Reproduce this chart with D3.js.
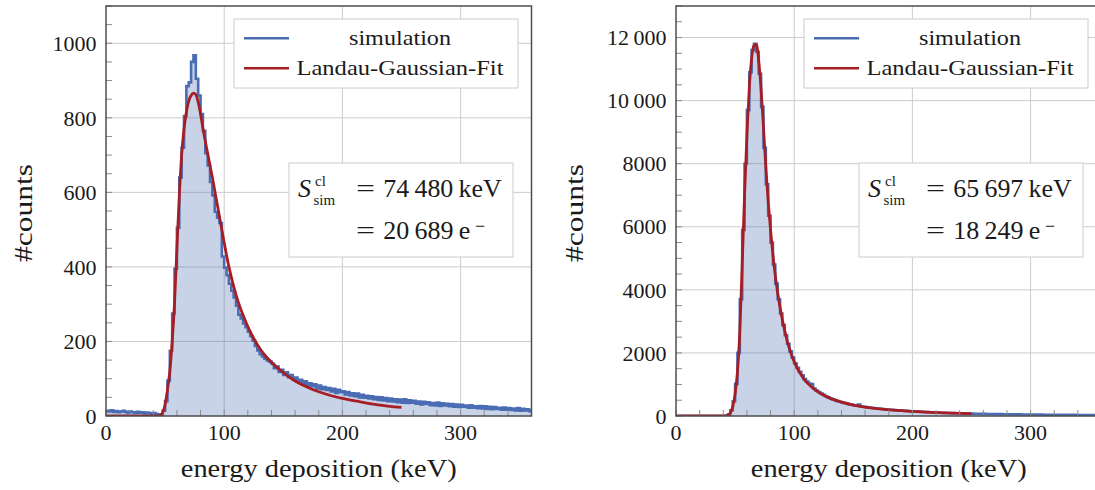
<!DOCTYPE html>
<html><head><meta charset="utf-8">
<script src="https://cdn.jsdelivr.net/npm/d3@7"></script>
<style>
body{margin:0;background:#fff}
svg{display:block}
svg text{font-family:"Liberation Serif","DejaVu Serif","Noto Serif",serif;fill:#1a1a1a}
</style>
</head><body><script>
// ---------------- data ----------------
const binEdges = d3.range(0, 360, 2); // left edges of the 2 keV histogram bins
const simLeft = [
 14,12,15,11,13,10,12,14,11,9,
 12,10,8,11,9,10,7,9,8,6,
 8,5,2,4,14,40,95,175,275,395,
 505,640,720,805,885,895,950,968,905,860,
 810,765,705,672,628,592,548,532,518,428,
 398,378,355,336,318,296,272,262,248,238,
 226,214,202,188,176,166,160,154,149,146,
 140,128,133,118,124,110,117,104,110,98,
 103,92,97,86,93,82,88,80,85,74,
 82,72,78,70,75,66,73,62,70,64,
 66,58,64,55,61,53,60,50,57,49,
 54,47,53,45,51,43,50,42,48,40,
 47,39,45,37,44,36,45,35,42,36,
 41,33,39,31,38,32,37,29,35,28,
 36,27,34,28,33,26,32,25,31,24,
 30,25,28,22,29,22,26,21,27,20,
 26,19,25,18,24,19,22,17,23,17,
 21,16,20,15,21,14,19,15,18,13
];
const fitLeftE = [0,44,46,48,50,52,54,56,58,60,62,64,66,68,70,72,74,76,78,80,82,84,86,88,90,92,94,96,98,100,104,108,112,116,120,125,130,135,140,150,160,170,180,190,200,215,230,250];
const fitLeftC = [0,0,2,10,30,70,120,200,305,450,590,700,770,815,845,860,866,862,842,810,772,738,705,672,640,605,570,535,500,465,400,348,305,270,240,208,182,161,144,116,94,78,65,55,47,38,30,23];

const simRight = [
 0,0,0,0,0,0,0,0,0,0,
 0,0,0,0,0,0,0,0,0,0,
 0,10,50,180,470,1020,2000,3700,5900,8000,
 9700,10900,11600,11800,11550,10850,9800,8500,7350,6350,
 5500,4800,4200,3700,3250,2880,2560,2290,2050,1850,
 1670,1530,1400,1290,1170,1090,1030,1010,870,810,
 760,715,670,625,590,555,528,500,472,450,
 428,410,390,372,356,342,328,360,303,292,
 281,271,262,253,245,237,229,222,214,206,
 200,195,189,183,178,173,168,162,158,152,
 148,144,139,135,131,127,123,119,115,112,
 108,105,102,99,97,94,92,90,88,86,
 84,82,80,78,76,74,72,71,69,68,
 66,65,64,62,61,60,59,58,57,56,
 55,54,53,52,51,50,49,48,48,47,
 46,45,45,44,43,42,42,41,40,40,
 39,38,38,37,37,36,36,35,35,34,
 34,33,33,32,32,31,31,30,30,30
];
const fitRightE = [0,40,42,44,46,48,50,52,54,56,58,60,62,64,66,68,70,72,74,76,78,80,84,88,92,96,100,108,116,128,140,156,178,200,222,250];
const fitRightC = [0,0,3,25,100,290,700,1400,2700,4800,7000,8900,10400,11350,11750,11780,11250,10350,9150,7900,6800,5900,4450,3450,2700,2130,1720,1180,880,600,440,305,205,148,105,73];

const xTicks = [0,100,200,300];
const yTicksLeft = [0,200,400,600,800,1000];
const yTickLabelsLeft = ["0","200","400","600","800","1000"];
const yTicksRight = [0,2000,4000,6000,8000,10000,12000];
const yTickLabelsRight = ["0","2000","4000","6000","8000","10\u2009000","12\u2009000"];
const legendLabels = ["simulation","Landau-Gaussian-Fit"];
const annotLeft = ["74\u2009480\u2009keV","20\u2009689\u2009e"];
const annotRight = ["65\u2009697\u2009keV","18\u2009249\u2009e"];
const xLabel = "energy deposition (keV)";
const yLabel = "#counts";

// ---------------- styles ----------------
const BLUE = "#4a6cb3", RED = "#a71d24", GRID = "#cccccc", FRAME = "#4d4d4d", TICK = "#8a8a8a";
const FONT = '"Liberation Serif","DejaVu Serif","Noto Serif",serif';

const svg = d3.select("body").append("svg").attr("width",1095).attr("height",490)
  .attr("font-family", FONT);

function fit(sel, w){ return sel.attr("textLength", w).attr("lengthAdjust","spacingAndGlyphs"); }
function txt(g){ return g.append("text").attr("font-family", FONT); }

function drawPanel(cfg, idx){
  const x = d3.scaleLinear().domain([0,360]).range([cfg.left, cfg.left+425.5]);
  const y = d3.scaleLinear().domain([0,cfg.ymax]).range([416,6]);
  const g = svg.append("g");
  const cid = "clip"+idx;
  g.append("clipPath").attr("id",cid).append("rect")
    .attr("x",x(0)).attr("y",y(cfg.ymax)).attr("width",x(360)-x(0)).attr("height",y(0)-y(cfg.ymax));

  // grid
  g.selectAll(null).data(xTicks.filter(d=>d>0)).join("line")
    .attr("x1",d=>x(d)).attr("x2",d=>x(d)).attr("y1",y(0)).attr("y2",y(cfg.ymax))
    .attr("stroke",GRID).attr("stroke-width",1);
  g.selectAll(null).data(cfg.yTicks.filter(d=>d>0)).join("line")
    .attr("x1",x(0)).attr("x2",x(360)).attr("y1",d=>y(d)).attr("y2",d=>y(d))
    .attr("stroke",GRID).attr("stroke-width",1);

  const plot = g.append("g").attr("clip-path",`url(#${cid})`);
  const pts = binEdges.map((e,i)=>[e, cfg.sim[i]]);
  pts.push([360, cfg.sim[cfg.sim.length-1]]);
  plot.append("path").datum(pts)
    .attr("d", d3.area().curve(d3.curveStepAfter).x(d=>x(d[0])).y0(y(0)).y1(d=>y(d[1])))
    .attr("fill",BLUE).attr("fill-opacity",0.3);
  plot.append("path").datum(pts)
    .attr("d", d3.line().curve(d3.curveStepAfter).x(d=>x(d[0])).y(d=>y(d[1])))
    .attr("fill","none").attr("stroke",BLUE).attr("stroke-width",2.6).attr("stroke-linejoin","miter");
  const fp = cfg.fitE.map((e,i)=>[e, cfg.fitC[i]]);
  plot.append("path").datum(fp)
    .attr("d", d3.line().curve(d3.curveMonotoneX).x(d=>x(d[0])).y(d=>y(d[1])))
    .attr("fill","none").attr("stroke",RED).attr("stroke-width",2.8).attr("stroke-linejoin","round");

  // ticks (left and bottom, pointing inward)
  g.selectAll(null).data(d3.range(0, cfg.ymax+1, cfg.yMinor)).join("line")
    .attr("x1",x(0)).attr("x2",x(0)+6).attr("y1",d=>y(d)).attr("y2",d=>y(d))
    .attr("stroke",TICK).attr("stroke-width",1);
  g.selectAll(null).data(d3.range(0, 361, 20)).join("line")
    .attr("x1",d=>x(d)).attr("x2",d=>x(d)).attr("y1",y(0)).attr("y2",y(0)-6)
    .attr("stroke",TICK).attr("stroke-width",1);

  // frame
  g.append("rect").attr("x",x(0)).attr("y",y(cfg.ymax)).attr("width",x(360)-x(0)).attr("height",y(0)-y(cfg.ymax))
    .attr("fill","none").attr("stroke",FRAME).attr("stroke-width",1.5);

  // tick labels
  g.selectAll(null).data(xTicks).join("text").attr("font-family",FONT)
    .attr("x",d=>x(d)).attr("y",440).attr("text-anchor","middle").attr("font-size",22).text(d=>d);
  g.selectAll(null).data(cfg.yTicks).join("text").attr("font-family",FONT)
    .attr("x",x(0)-9.5).attr("y",d=>y(d)).attr("dy","0.35em").attr("text-anchor","end").attr("font-size",22)
    .text((d,i)=>cfg.yLabels[i]);

  // axis titles
  fit(txt(g).attr("x",(x(0)+x(360))/2).attr("y",477).attr("text-anchor","middle")
    .attr("font-size",25).text(xLabel), 276);
  fit(txt(g).attr("transform",`translate(${cfg.yLabelX},213) rotate(-90)`).attr("text-anchor","middle")
    .attr("font-size",25).text(yLabel), 98);

  // legend
  const L = cfg.left;
  g.append("rect").attr("x",L+128).attr("y",19).attr("width",284).attr("height",69)
    .attr("fill","#fff").attr("stroke",GRID).attr("stroke-width",1);
  const lcol = [BLUE, RED], ly = [38.3, 68.3], lb = [45, 74.5], lw = [102, 207];
  legendLabels.forEach((t,i)=>{
    g.append("line").attr("x1",L+138).attr("x2",L+183).attr("y1",ly[i]).attr("y2",ly[i])
      .attr("stroke",lcol[i]).attr("stroke-width",2.6);
    fit(txt(g).attr("x",L+294).attr("y",lb[i]).attr("text-anchor","middle").attr("font-size",22).text(t), lw[i]);
  });

  // annotation box
  g.append("rect").attr("x",L+183).attr("y",163).attr("width",224).attr("height",94)
    .attr("fill","#fff").attr("stroke",GRID).attr("stroke-width",1);
  txt(g).attr("x",L+192).attr("y",197).attr("font-size",26).attr("font-style","italic").text("S");
  txt(g).attr("x",L+209).attr("y",186).attr("font-size",15).text("cl");
  txt(g).attr("x",L+207.5).attr("y",205).attr("font-size",15).text("sim");
  fit(txt(g).attr("x",L+250).attr("y",197).attr("font-size",26).text("="), 19);
  fit(txt(g).attr("x",L+277.3).attr("y",197).attr("font-size",26).text(cfg.annot[0]), 118.4);
  fit(txt(g).attr("x",L+250).attr("y",239).attr("font-size",26).text("="), 19);
  const r2 = txt(g).attr("x",L+277.3).attr("y",239).attr("font-size",26);
  r2.append("tspan").text(cfg.annot[1]);
  r2.append("tspan").attr("x",L+369).attr("dy",-7).attr("font-size",18).text("\u2212");
}

drawPanel({left:106, ymax:1100, yTicks:yTicksLeft, yLabels:yTickLabelsLeft, yMinor:50,
  sim:simLeft, fitE:fitLeftE, fitC:fitLeftC, annot:annotLeft, yLabelX:32}, 0);
drawPanel({left:676, ymax:13000, yTicks:yTicksRight, yLabels:yTickLabelsRight, yMinor:500,
  sim:simRight, fitE:fitRightE, fitC:fitRightC, annot:annotRight, yLabelX:583}, 1);
</script></body></html>
